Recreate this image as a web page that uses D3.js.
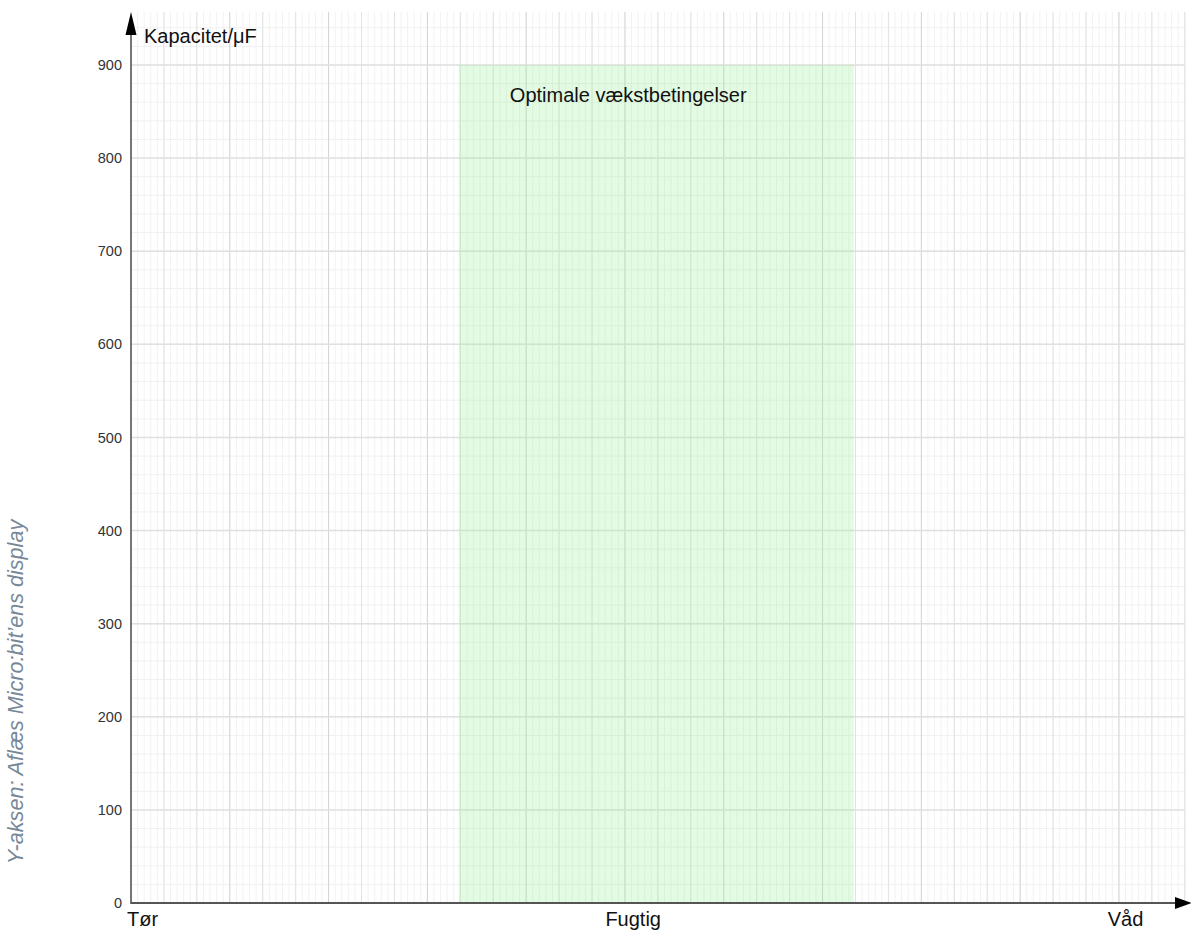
<!DOCTYPE html>
<html>
<head>
<meta charset="utf-8">
<script src="https://cdn.jsdelivr.net/npm/d3@7"></script>
<style>
  html, body { margin: 0; padding: 0; background: #fff; }
  svg { display: block; font-family: "Liberation Sans", Arial, sans-serif; }
</style>
</head>
<body>
<svg id="chart" width="1191" height="932"></svg>
<script>
'use strict';

// Data
var yTicks = [0, 100, 200, 300, 400, 500, 600, 700, 800, 900];
var yLabel = 'Kapacitet/μF';
var sideNote = "Y-aksen: Aflæs Micro:bit’ens display";
var xCategories = ['Tør', 'Fugtig', 'Våd'];
var xCategoryPos = [0, 15.25, 30.2];
var optimalZone = [9.95, 21.95];
var optimalLabel = 'Optimale vækstbetingelser';

(function() {
  var svg = d3.select('#chart');

  var x = d3.scaleLinear().domain([0, 32]).range([131, 1184.8]);
  var y = d3.scaleLinear().domain([0, 900]).range([903, 65]);
  var yTop = 957;

  // grille fine
  var g = svg.append('g');
  g.selectAll('.vmin').data(d3.range(0, 32.01, 0.2)).enter().append('line')
    .attr('x1', function(d) { return x(d); }).attr('x2', function(d) { return x(d); })
    .attr('y1', y(0)).attr('y2', y(yTop))
    .attr('stroke', '#f2f2f2').attr('stroke-width', 1);
  g.selectAll('.hmin').data(d3.range(0, yTop, 20)).enter().append('line')
    .attr('x1', x(0)).attr('x2', x(32))
    .attr('y1', function(d) { return y(d); }).attr('y2', function(d) { return y(d); })
    .attr('stroke', '#f0f0f0').attr('stroke-width', 1);

  // grille principale
  g.selectAll('.vmaj').data(d3.range(1, 32.01, 1)).enter().append('line')
    .attr('x1', function(d) { return x(d); }).attr('x2', function(d) { return x(d); })
    .attr('y1', y(0)).attr('y2', y(yTop))
    .attr('stroke', function(d) { return d % 3 === 0 ? '#d4d4d4' : '#e2e2e2'; })
    .attr('stroke-width', 1);
  g.selectAll('.hmaj').data(yTicks.slice(1)).enter().append('line')
    .attr('x1', x(0)).attr('x2', x(32))
    .attr('y1', function(d) { return y(d); }).attr('y2', function(d) { return y(d); })
    .attr('stroke', '#e0e0e0').attr('stroke-width', 1.5);

  // zone optimale
  svg.append('rect')
    .attr('x', x(optimalZone[0])).attr('y', y(900))
    .attr('width', x(optimalZone[1]) - x(optimalZone[0]))
    .attr('height', y(0) - y(900))
    .attr('fill', '#90ee90').attr('fill-opacity', 0.25);

  svg.append('text')
    .attr('x', x(15.1)).attr('y', y(860))
    .attr('text-anchor', 'middle')
    .attr('font-size', 20).attr('fill', '#111')
    .text(optimalLabel);

  // axe Y
  var axeY = d3.axisLeft(y).tickValues(yTicks).tickSize(0).tickPadding(9);
  svg.append('g').attr('transform', 'translate(' + x(0) + ',0)').call(axeY)
    .call(function(s) { s.select('.domain').remove(); })
    .selectAll('text')
    .attr('font-size', 14.5).attr('font-family', '"Liberation Sans", Arial, sans-serif')
    .attr('fill', '#333');

  svg.append('line')
    .attr('x1', x(0)).attr('x2', x(0)).attr('y1', y(0) + 1).attr('y2', 30)
    .attr('stroke', '#555').attr('stroke-width', 1.6);
  svg.append('path')
    .attr('d', 'M' + x(0) + ',12 L' + (x(0) - 5.5) + ',35 L' + (x(0) + 5.5) + ',35 Z')
    .attr('fill', '#000');

  svg.append('text')
    .attr('x', 144).attr('y', 43)
    .attr('font-size', 20).attr('fill', '#111')
    .text(yLabel);

  // axe X
  svg.append('line')
    .attr('x1', x(0)).attr('x2', 1178).attr('y1', y(0)).attr('y2', y(0))
    .attr('stroke', '#555').attr('stroke-width', 2);
  svg.append('path')
    .attr('d', 'M1192,' + y(0) + ' L1175,' + (y(0) - 6) + ' L1175,' + (y(0) + 6) + ' Z')
    .attr('fill', '#000');

  svg.selectAll('.cat').data(xCategories).enter().append('text')
    .attr('x', function(d, i) { return i === 0 ? x(xCategoryPos[i]) - 4 : x(xCategoryPos[i]); })
    .attr('y', 926)
    .attr('text-anchor', function(d, i) { return i === 0 ? 'start' : 'middle'; })
    .attr('font-size', 20).attr('fill', '#111')
    .text(function(d) { return d; });

  // note latérale
  svg.append('text')
    .attr('transform', 'translate(23,692) rotate(-90)')
    .attr('text-anchor', 'middle')
    .attr('font-size', 21.6).attr('font-style', 'italic')
    .attr('fill', '#778899')
    .text(sideNote);
})();
</script>
</body>
</html>
